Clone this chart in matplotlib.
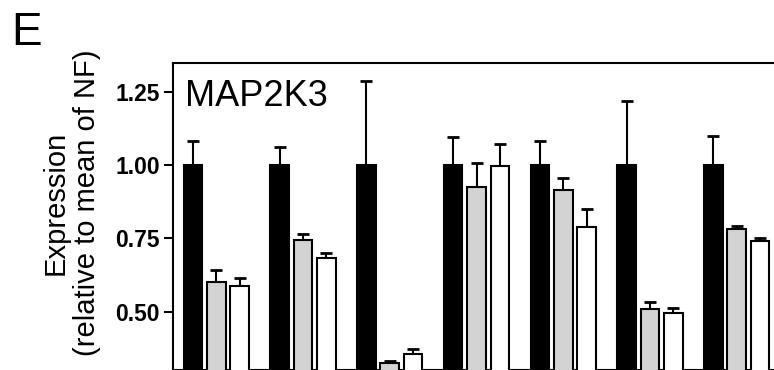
import numpy as np
import matplotlib
matplotlib.use("Agg")
import matplotlib.pyplot as plt

plt.rcParams["font.family"] = ["Liberation Sans", "DejaVu Sans"]

# values (bar height, upward SEM)
groups = np.arange(7)
black_vals = [1.00, 1.00, 1.00, 1.00, 1.00, 1.00, 1.00]
black_err = [0.084, 0.062, 0.288, 0.097, 0.082, 0.219, 0.102]
gray_vals = [0.601, 0.744, 0.324, 0.926, 0.917, 0.510, 0.782]
gray_err = [0.041, 0.020, 0.007, 0.082, 0.041, 0.022, 0.010]
white_vals = [0.588, 0.684, 0.356, 0.997, 0.788, 0.495, 0.742]
white_err = [0.027, 0.016, 0.016, 0.077, 0.063, 0.016, 0.011]
yticks = [0.50, 0.75, 1.00, 1.25]

W, H = 774, 370
fig = plt.figure(figsize=(W / 100, H / 100), dpi=100)
ax = fig.add_axes([173 / W, 0.0, (780 - 173) / W, 1 - 63 / H])

width = 0.215
step = 0.269
series = [
    (black_vals, black_err, "black", -step),
    (gray_vals, gray_err, "#d3d3d3", 0.0),
    (white_vals, white_err, "white", step),
]
for vals, err, color, off in series:
    x = groups + off
    ax.errorbar(x, vals, yerr=[np.zeros(len(err)), err], fmt="none",
                ecolor="black", elinewidth=1.5, capsize=4.5, capthick=2, zorder=2)
    ax.bar(x, vals, width=width, color=color, edgecolor="black",
           linewidth=1.5, zorder=3)

ax.set_xlim(-0.5, 6.5)
ax.set_ylim(0.30, 1.35)
ax.set_yticks(yticks)
ax.set_yticklabels([f"{t:.2f}" for t in yticks], fontsize=16.5, fontweight="bold")
ax.set_xticks([])
ax.tick_params(axis="y", direction="out", length=6.5, width=1.5, pad=3)
for s in ax.spines.values():
    s.set_linewidth(1.5)

fig.text(185 / W, 1 - 106.5 / H, "MAP2K3", fontsize=26, va="baseline", ha="left")
fig.text(71 / W, 1 - 203 / H, "Expression\n(relative to mean of NF)",
         fontsize=21, rotation=90, ha="center", va="center",
         multialignment="center", linespacing=1.15)
fig.text(11 / W, 1 - 45 / H, "E", fontsize=33, va="baseline", ha="left")

fig.savefig("out.png", dpi=100)
